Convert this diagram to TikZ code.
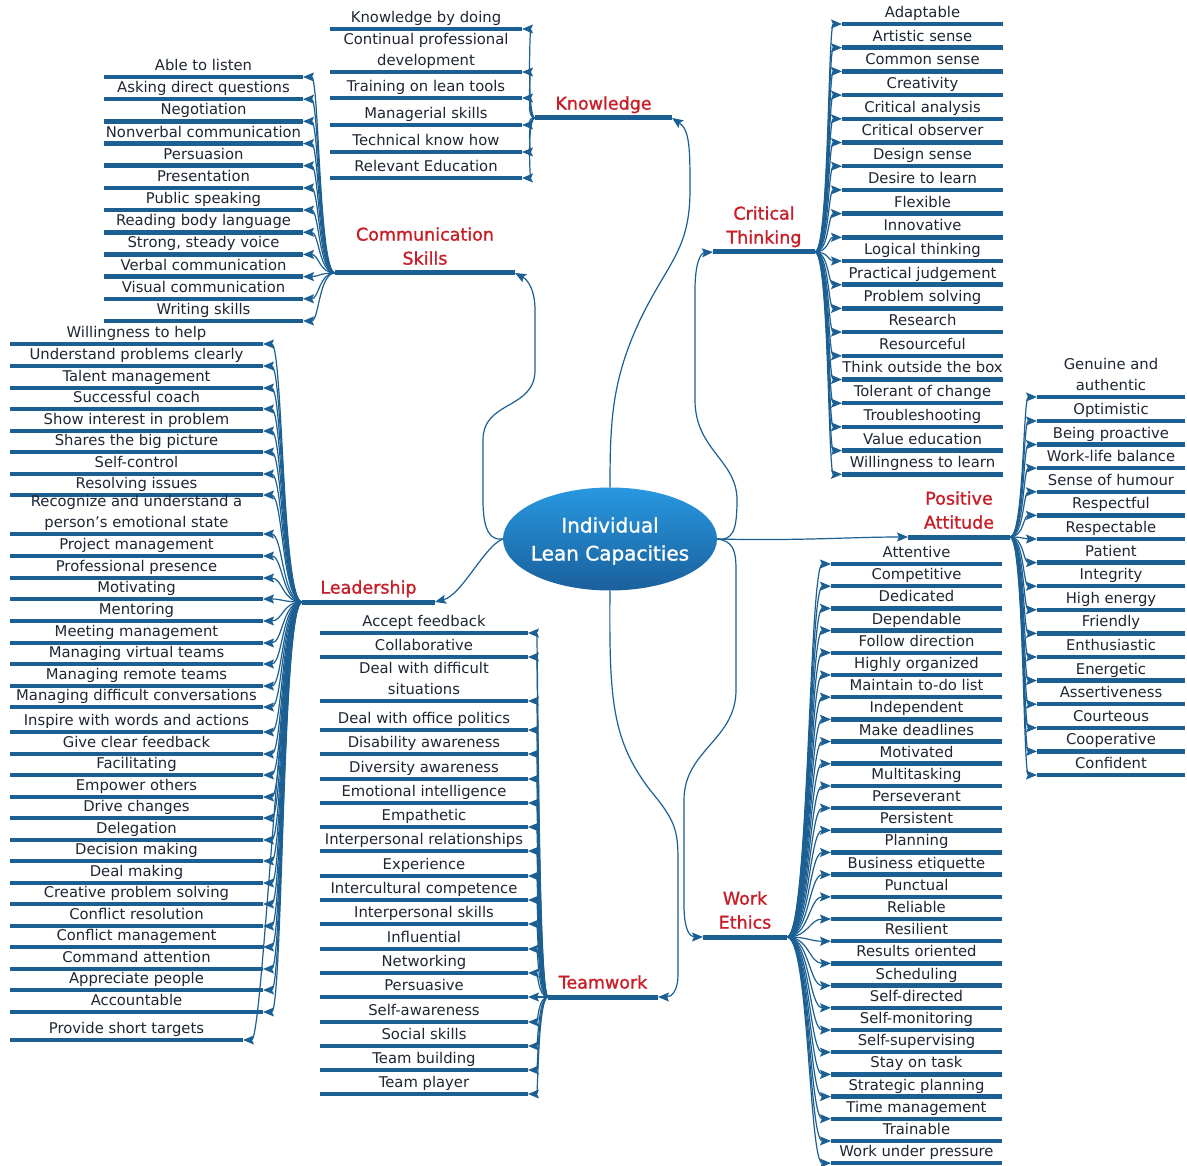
\documentclass[tikz,border=0pt]{standalone}
\usepackage{fontspec}
\setmainfont{DejaVu Sans}
\newfontfamily\heavyfam{DejaVu Sans}[FakeBold=1.2]
\usetikzlibrary{arrows.meta,shapes.geometric}
\definecolor{barc}{RGB}{28,95,146}
\definecolor{txtc}{RGB}{30,38,52}
\definecolor{redc}{RGB}{200,30,40}
\definecolor{elltop}{RGB}{40,152,224}
\definecolor{ellbot}{RGB}{26,96,156}
\newcommand\itemfont{\fontsize{14.8}{21}\selectfont}
\newcommand\catfont{\heavyfam\fontsize{17.5}{24}\selectfont}
\newcommand\itm[5]{%
  \node[barbox, minimum width={#3-#2}] (#1) at ({(#2+#3)/2},{#4}) {};
  \node[itemtxt] (#1-t) at ({(#2+#3)/2},{#4}) {#5\strut};}
\newcommand\catitem[5]{%
  \node[catbar, minimum width={#3-#2}] (#1) at ({(#2+#3)/2},{#4}) {};
  \node[cattxt] (#1-t) at ({(#2+#3)/2},{#4-1}) {#5\strut};}
\tikzset{
  barbox/.style={fill=barc, minimum height=4.5pt, inner sep=0pt, outer sep=0pt},
  catbar/.style={fill=barc, minimum height=5pt, inner sep=0pt, outer sep=0pt},
  itemtxt/.style={font=\itemfont, text=txtc, inner sep=0pt, anchor=south, align=center},
  cattxt/.style={font=\catfont, text=redc, inner sep=0pt, anchor=south, align=center},
  conn/.style={draw=barc, line width=1.2pt, -{Stealth[length=11pt,width=9pt,inset=2pt]}},
  coreell/.style={ellipse, minimum width=214pt, minimum height=103pt, inner sep=0pt,
    outer sep=0pt, top color=elltop, bottom color=ellbot, draw=none},
  coretxt/.style={text=white, font=\heavyfam\fontsize{20}{28}\selectfont, align=center, inner sep=0pt},
}
\begin{document}
\begin{tikzpicture}[x=1pt,y=-1pt]
\fill[white] (0,0) rectangle (1187,1166);
\useasboundingbox (0,0) rectangle (1187,1166);

\node[coreell] (core) at (610,539) {};
\node[coretxt] (core-t) at (610,541) {Individual\\Lean Capacities};

% categories
\catitem{kn}{535}{672}{118}{Knowledge}
\catitem{ct}{713}{815}{252}{Critical\\Thinking}
\catitem{cm}{335}{515}{273}{Communication\\Skills}
\catitem{lead}{302}{435}{602}{Leadership}
\catitem{tw}{548}{658}{997}{Teamwork}
\catitem{we}{703}{787}{937}{Work\\Ethics}
\catitem{pa}{908}{1010}{537}{Positive\\Attitude}

% Knowledge
\itm{k1}{330}{522}{29}{Knowledge by doing}
\itm{k2}{330}{522}{72}{Continual professional\\development}
\itm{k3}{330}{522}{98}{Training on lean tools}
\itm{k4}{330}{522}{125}{Managerial skills}
\itm{k5}{330}{522}{152}{Technical know how}
\itm{k6}{330}{522}{178}{Relevant Education}
\foreach \i in {1,...,6}
  \draw[conn] (kn.west) .. controls +(-8,0) and +(8,0) .. (k\i.east);

% Communication skills
\foreach \t [count=\i] in {Able to listen, Asking direct questions, Negotiation,
  Nonverbal communication, Persuasion, Presentation, Public speaking,
  Reading body language, {Strong, steady voice}, Verbal communication,
  Visual communication, Writing skills}
  {\itm{c\i}{104}{303}{77+22.18*(\i-1)}{\t}}
\foreach \i in {1,...,12}
  \draw[conn] (cm.west) .. controls +(-16,0) and +(16,0) .. (c\i.east);

% Leadership
\foreach \i/\y/\t in {1/344/Willingness to help, 2/366/Understand problems clearly,
  3/388/Talent management, 4/409/Successful coach, 5/431/Show interest in problem,
  6/452/Shares the big picture, 7/474/Self-control, 8/495/Resolving issues,
  10/556/Project management, 11/578/Professional presence, 12/599/Motivating,
  13/621/Mentoring, 14/643/Meeting management, 15/664/Managing virtual teams,
  16/686/Managing remote teams, 17/707/Managing difficult conversations,
  18/732/Inspire with words and actions, 19/754/Give clear feedback,
  20/775/Facilitating, 21/797/Empower others, 22/818/Drive changes,
  23/840/Delegation, 24/861/Decision making, 25/883/Deal making,
  26/904/Creative problem solving, 27/926/Conflict resolution,
  28/947/Conflict management, 29/969/Command attention, 30/990/Appreciate people,
  31/1012/Accountable}
  {\itm{L\i}{10}{263}{\y}{\t}}
\itm{L9}{10}{263}{534}{Recognize and understand a\\person’s emotional state}
\itm{L32}{10}{243}{1040}{Provide short targets}
\foreach \i in {1,...,32}
  \draw[conn] (lead.west) .. controls +(-20,0) and +(20,0) .. (L\i.east);

% Teamwork
\foreach \i/\y/\t in {1/633/Accept feedback, 2/657/Collaborative,
  4/730/Deal with office politics, 5/754/Disability awareness,
  6/779/Diversity awareness, 7/803/Emotional intelligence, 8/827/Empathetic,
  9/851/Interpersonal relationships, 10/876/Experience,
  11/900/Intercultural competence, 12/924/Interpersonal skills,
  13/949/Influential, 14/973/Networking, 15/997/Persuasive,
  16/1022/Self-awareness, 17/1046/Social skills, 18/1070/Team building,
  19/1094/Team player}
  {\itm{T\i}{320}{528}{\y}{\t}}
\itm{T3}{320}{528}{701}{Deal with difficult\\situations}
\foreach \i in {1,...,19}
  \draw[conn] (tw.west) .. controls +(-10,0) and +(10,0) .. (T\i.east);

% Critical thinking
\foreach \t [count=\i] in {Adaptable, Artistic sense, Common sense, Creativity,
  Critical analysis, Critical observer, Design sense, Desire to learn, Flexible,
  Innovative, Logical thinking, Practical judgement, Problem solving, Research,
  Resourceful, Think outside the box, Tolerant of change, Troubleshooting,
  Value education, Willingness to learn}
  {\itm{C\i}{842}{1003}{24+23.7*(\i-1)}{\t}}
\foreach \i in {1,...,20}
  \draw[conn] (ct.east) .. controls +(14,0) and +(-14,0) .. (C\i.west);

% Positive attitude
\itm{P1}{1037}{1185}{397}{Genuine and\\authentic}
\foreach \t [count=\i from 2] in {Optimistic, Being proactive, Work-life balance,
  Sense of humour, Respectful, Respectable, Patient, Integrity, High energy,
  Friendly, Enthusiastic, Energetic, Assertiveness, Courteous, Cooperative,
  Confident}
  {\itm{P\i}{1037}{1185}{421+23.6*(\i-2)}{\t}}
\foreach \i in {1,...,17}
  \draw[conn] (pa.east) .. controls +(14,0) and +(-14,0) .. (P\i.west);

% Work ethics
\foreach \t [count=\i] in {Attentive, Competitive, Dedicated, Dependable,
  Follow direction, Highly organized, Maintain to-do list, Independent,
  Make deadlines, Motivated, Multitasking, Perseverant, Persistent, Planning,
  Business etiquette, Punctual, Reliable, Resilient, Results oriented,
  Scheduling, Self-directed, Self-monitoring, Self-supervising, Stay on task,
  Strategic planning, Time management, Trainable, Work under pressure}
  {\itm{W\i}{831}{1002}{564+22.19*(\i-1)}{\t}}
\foreach \i in {1,...,28}
  \draw[conn] (we.east) .. controls +(22,0) and +(-22,0) .. (W\i.west);

% main connectors
\draw[conn] (core.north) .. controls (610,420) and (612,380) .. (640,320)
  .. controls (668,262) and (690,250) .. (690,190)
  .. controls (690,150) and (690,130) .. (kn.east);
\draw[conn] (core.east) .. controls (733,541) and (737,530) .. (737,500)
  .. controls (737,460) and (695,450) .. (695,400) -- (695,290)
  .. controls (695,265) and (700,253) .. (ct.west);
\draw[conn] (core.west) .. controls (490,541) and (483,530) .. (483,500) -- (483,440)
  .. controls (483,400) and (535,410) .. (535,370) -- (535,310)
  .. controls (535,290) and (528,280) .. (cm.east);
\draw[conn] (core.west) .. controls (485,545) and (462,595) .. (lead.east);
\draw[conn] (core.south) .. controls (609,700) and (612,740) .. (650,790)
  .. controls (675,820) and (678,830) .. (678,860) -- (678,975)
  .. controls (678,990) and (672,997) .. (tw.east);
\draw[conn] (core.east) .. controls (733,541) and (736,550) .. (736,570) -- (736,690)
  .. controls (736,740) and (684,750) .. (684,800) -- (684,905)
  .. controls (684,930) and (690,937) .. (we.west);
\draw[conn] (core.east) .. controls (800,541) and (850,537) .. (pa.west);
\end{tikzpicture}
\end{document}
